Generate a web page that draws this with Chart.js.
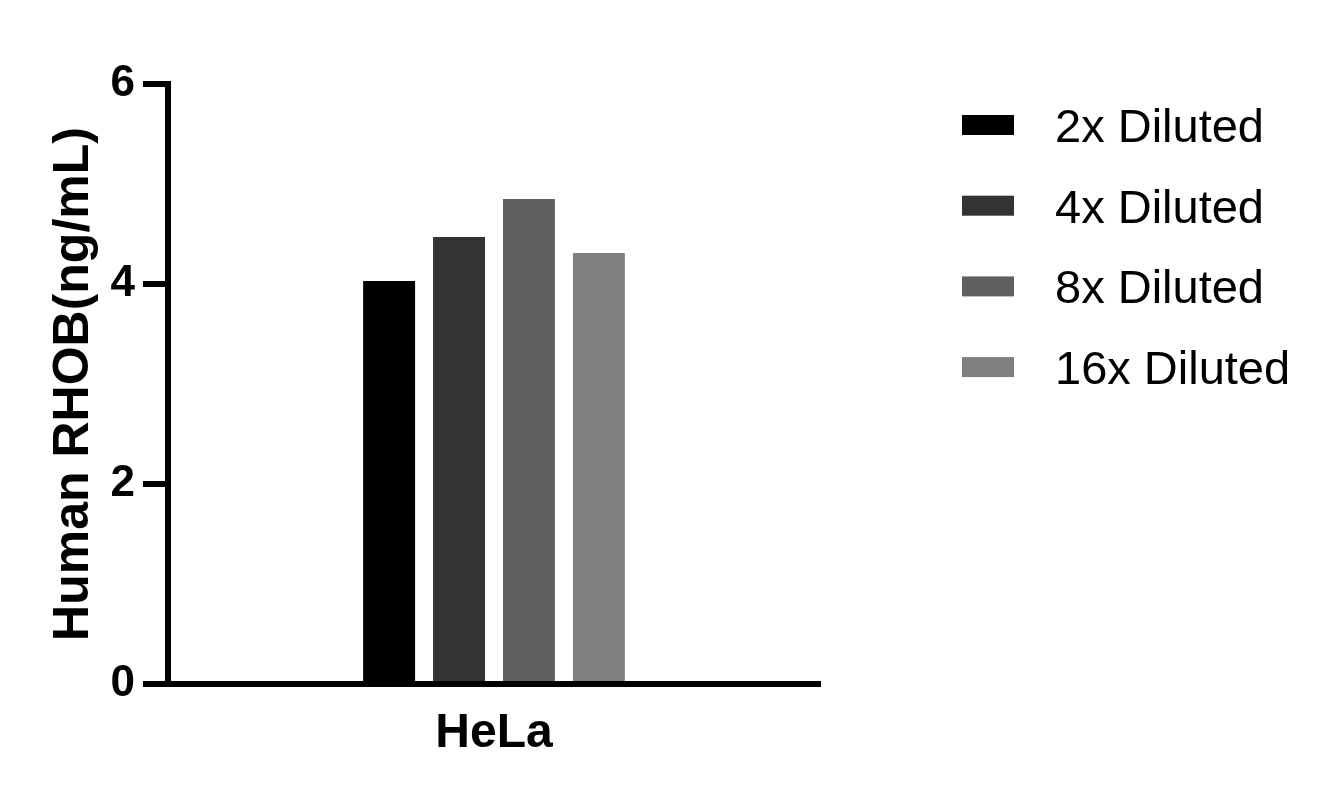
<!DOCTYPE html>
<html>
<head>
<meta charset="utf-8">
<script src="https://cdn.jsdelivr.net/npm/chart.js@4/dist/chart.umd.min.js"></script>
<style>
html,body{margin:0;padding:0;background:#fff;}
#wrap{width:1338px;height:804px;position:relative;}
</style>
</head>
<body>
<div id="wrap"><canvas id="c" width="1338" height="804"></canvas></div>
<script>
const categories = ['HeLa'];
const seriesLabels = ['2x Diluted', '4x Diluted', '8x Diluted', '16x Diluted'];
const values2x = [4.03];
const values4x = [4.47];
const values8x = [4.85];
const values16x = [4.31];
const seriesColors = ['#000000', '#333333', '#606060', '#808080'];
const yTitle = 'Human RHOB(ng/mL)';
const yMin = 0, yMax = 6, yStep = 2;

const FONT = '"Liberation Sans", Arial, Helvetica, sans-serif';
const seriesValues = [values2x, values4x, values8x, values16x];

const legendPlugin = {
  id: 'customLegend',
  afterDraw(chart) {
    const ctx = chart.ctx;
    ctx.save();
    chart.data.datasets.forEach((ds, i) => {
      const base = 142 + 80.7 * i;
      ctx.fillStyle = ds.backgroundColor;
      ctx.fillRect(962, base - 27, 52, 20);
      ctx.fillStyle = '#000';
      ctx.font = '47px ' + FONT;
      ctx.textBaseline = 'alphabetic';
      ctx.textAlign = 'left';
      ctx.fillText(ds.label, 1055, base);
    });
    ctx.restore();
  }
};

new Chart(document.getElementById('c'), {
  type: 'bar',
  data: {
    labels: categories,
    datasets: seriesLabels.map((lab, i) => ({
      label: lab,
      data: seriesValues[i],
      backgroundColor: seriesColors[i],
      borderWidth: 0,
      barPercentage: 0.743,
      categoryPercentage: 0.429
    }))
  },
  options: {
    responsive: false,
    animation: false,
    devicePixelRatio: 1,
    layout: { padding: { left: 0, right: 518, top: 84, bottom: 0 } },
    plugins: { legend: { display: false }, tooltip: { enabled: false } },
    scales: {
      x: {
        grid: { display: false, drawTicks: false },
        border: { display: true, width: 6, color: '#000' },
        ticks: { color: '#000', font: { family: FONT, size: 48, weight: 'bold' }, padding: 21 },
        afterFit(s) { s.height = 120; }
      },
      y: {
        min: yMin, max: yMax,
        grid: { display: true, drawOnChartArea: false, drawTicks: true, tickLength: 25, lineWidth: 6, color: '#000' },
        border: { display: true, width: 6, color: '#000' },
        ticks: { stepSize: yStep, color: '#000', font: { family: FONT, size: 44, weight: 'bold' }, padding: 8 },
        title: { display: true, text: yTitle, color: '#000', font: { family: FONT, size: 50, weight: 'bold' }, padding: { top: 44, bottom: 0 } },
        afterFit(s) { s.width = 168; }
      }
    }
  },
  plugins: [legendPlugin]
});
</script>
</body>
</html>
